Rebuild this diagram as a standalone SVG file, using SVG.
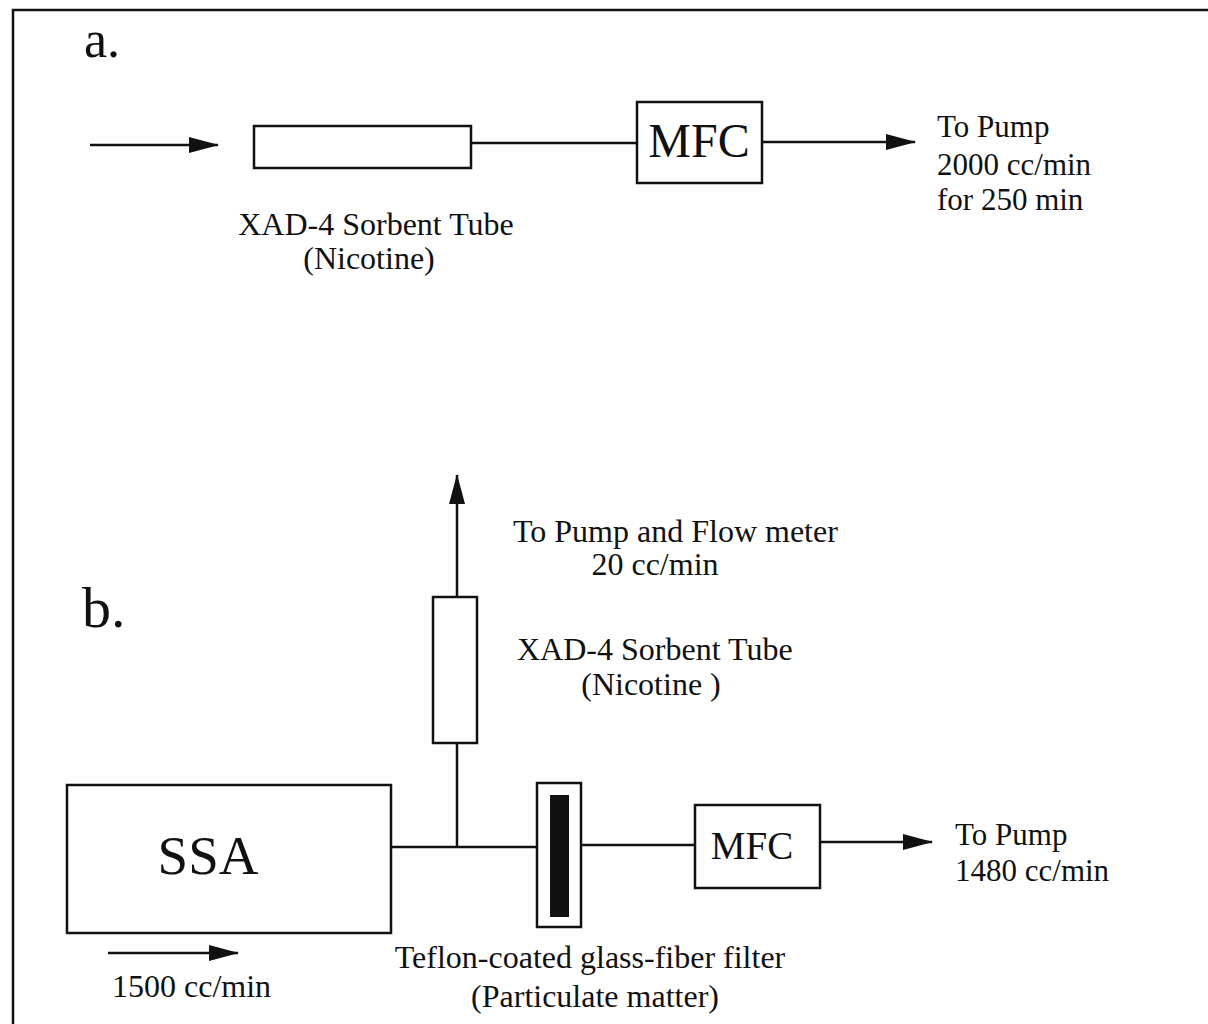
<svg xmlns="http://www.w3.org/2000/svg" width="1208" height="1024" viewBox="0 0 1208 1024">
<style>
.box{fill:#fff;stroke:#111;stroke-width:2.5}
.ln{fill:none;stroke:#111;stroke-width:2.5}
.t{font-family:"Liberation Serif","Times New Roman",serif;fill:#111;font-size:32px}
.r{font-size:31px}
.c{text-anchor:middle}
</style>
<defs>
<marker id="ah" viewBox="0 0 30 16" refX="29" refY="8" markerWidth="30" markerHeight="16" markerUnits="userSpaceOnUse" orient="auto">
<path d="M0,0 L30,8 L0,16 z" fill="#111"/>
</marker>
</defs>
<rect width="1208" height="1024" fill="#fff"/>
<path class="ln" d="M13,1024 L13,10 L1208,10"/>

<g id="panel-a-label"><text class="t" x="84" y="57" style="font-size:52px">a.</text></g>
<g id="panel-b-label"><text class="t" x="82" y="627" style="font-size:58px">b.</text></g>

<g id="connectors">
<line class="ln" x1="90" y1="145" x2="218" y2="145" marker-end="url(#ah)"/>
<line class="ln" x1="471" y1="143" x2="637" y2="143"/>
<line class="ln" x1="762" y1="142" x2="915" y2="142" marker-end="url(#ah)"/>
<line class="ln" x1="457" y1="847" x2="457" y2="743"/>
<line class="ln" x1="457" y1="597" x2="457" y2="475" marker-end="url(#ah)"/>
<line class="ln" x1="391" y1="847" x2="537" y2="847"/>
<line class="ln" x1="581" y1="845" x2="695" y2="845"/>
<line class="ln" x1="820" y1="842" x2="932" y2="842" marker-end="url(#ah)"/>
<line class="ln" x1="108" y1="953" x2="238" y2="953" marker-end="url(#ah)"/>
</g>

<g id="tube-a">
<rect class="box" x="254" y="126" width="217" height="42"/>
<text class="t c" x="376" y="235">XAD-4 Sorbent Tube</text>
<text class="t c" x="369" y="269">(Nicotine)</text>
</g>

<g id="mfc-a">
<rect class="box" x="637" y="102" width="125" height="81"/>
<text class="t c" x="699" y="157" style="font-size:48px">MFC</text>
</g>

<g id="out-a">
<text class="t r" x="937" y="137">To Pump</text>
<text class="t r" x="937" y="175">2000 cc/min</text>
<text class="t r" x="937" y="210">for 250 min</text>
</g>

<g id="ssa">
<rect class="box" x="67" y="785" width="324" height="148"/>
<text class="t c" x="208" y="874" style="font-size:55px">SSA</text>
</g>

<g id="inflow-b">
<text class="t" x="112" y="997">1500 cc/min</text>
</g>

<g id="tube-b">
<rect class="box" x="433" y="597" width="44" height="146"/>
<text class="t" x="517" y="660">XAD-4 Sorbent Tube</text>
<text class="t c" x="651" y="695">(Nicotine )</text>
</g>

<g id="pump-flow-b">
<text class="t" x="513" y="542">To Pump and Flow meter</text>
<text class="t c" x="655" y="575">20 cc/min</text>
</g>

<g id="filter-b">
<rect class="box" x="537" y="783" width="44" height="144"/>
<rect x="550" y="795" width="19" height="122" fill="#111"/>
<text class="t c" x="590" y="968">Teflon-coated glass-fiber filter</text>
<text class="t c" x="595" y="1007">(Particulate matter)</text>
</g>

<g id="mfc-b">
<rect class="box" x="695" y="805" width="125" height="83"/>
<text class="t c" x="752" y="859" style="font-size:39px">MFC</text>
</g>

<g id="out-b">
<text class="t r" x="955" y="845">To Pump</text>
<text class="t r" x="955" y="881">1480 cc/min</text>
</g>
</svg>
